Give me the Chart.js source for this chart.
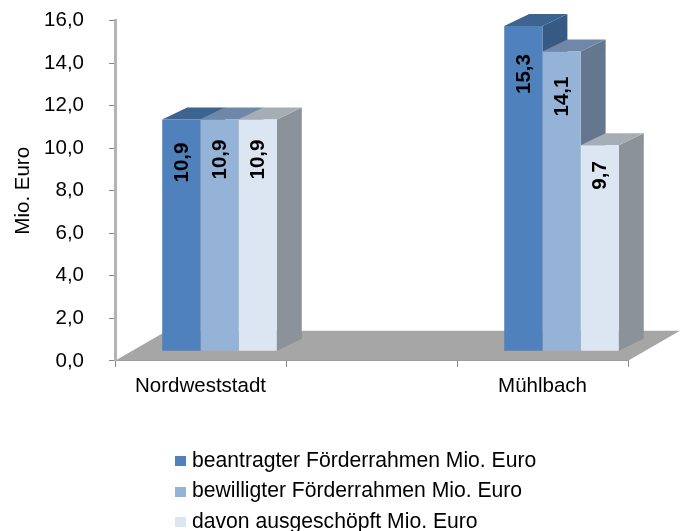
<!DOCTYPE html>
<html>
<head>
<meta charset="utf-8">
<style>
  html, body { margin: 0; padding: 0; background: #fff; }
  #wrap { position: relative; width: 680px; height: 531px; }
  /* the reference is a slightly soft raster */
  canvas { filter: blur(0.35px); }
</style>
<script src="https://cdn.jsdelivr.net/npm/chart.js@4"></script>
</head>
<body>
<div id="wrap"><canvas id="chart"></canvas></div>
<script>
const categories = ['Nordweststadt', '', 'Mühlbach'];
const seriesNames = ['beantragter Förderrahmen Mio. Euro', 'bewilligter Förderrahmen Mio. Euro', 'davon ausgeschöpft Mio. Euro'];
const beantragt = [10.9, null, 15.3];
const bewilligt = [10.9, null, 14.1];
const ausgeschoepft = [10.9, null, 9.7];
const yTickLabels = ['0,0', '2,0', '4,0', '6,0', '8,0', '10,0', '12,0', '14,0', '16,0'];

const frontColors = ['#4F81BD', '#95B3D7', '#DCE6F2'];
const sideColors = ['#375A85', '#64778F', '#8B9299'];
const topColors = ['#3D6390', '#6F87A8', '#A6AEB5'];

// Pseudo 3D: bars sit a bit inside the floor, so everything is shifted
const shift = { x: 19, y: -9.5 };
const depth = { x: 25, y: 12 };
const floorDepth = { x: 52, y: 30 };
// distance of the end of each value label from the bar top, per dataset/category
const labelGap = [[23, 0, 28], [20, 0, 25], [20, 0, 16]];

const fontFamily = '"Liberation Sans", Arial, sans-serif';
const fontSize = 20.5;

function fmt(v) { return v.toFixed(1).replace('.', ','); }

function poly(ctx, pts, color) {
    ctx.fillStyle = color;
    ctx.beginPath();
    pts.forEach((p, i) => i ? ctx.lineTo(p[0], p[1]) : ctx.moveTo(p[0], p[1]));
    ctx.closePath();
    ctx.fill();
}

// Small legend square, the native box would sit too far from the text
function legendSwatch(color) {
    const c = document.createElement('canvas');
    c.width = 11; c.height = 10;
    const g = c.getContext('2d');
    g.fillStyle = color;
    g.fillRect(0, 0, 11, 10);
    return c;
}

const fake3d = {
    id: 'fake3d',
    beforeDatasetsDraw(chart) {
        const { ctx, chartArea, scales } = chart;
        const y0 = scales.y.getPixelForValue(0);
        poly(ctx, [
            [chartArea.left, y0], [chartArea.right, y0],
            [chartArea.right + floorDepth.x, y0 - floorDepth.y], [chartArea.left + floorDepth.x, y0 - floorDepth.y]
        ], '#A6A6A6');

        ctx.save();
        ctx.translate(shift.x, shift.y);
        chart.data.datasets.forEach((ds, di) => {
            chart.getDatasetMeta(di).data.forEach((bar, i) => {
                if (ds.data[i] === null) return;
                const r = bar.x + bar.width / 2, l = bar.x - bar.width / 2;
                poly(ctx, [[r, bar.y], [r + depth.x, bar.y - depth.y], [r + depth.x, bar.base - depth.y], [r, bar.base]], sideColors[di]);
                poly(ctx, [[l, bar.y], [l + depth.x, bar.y - depth.y], [r + depth.x, bar.y - depth.y], [r, bar.y]], topColors[di]);
            });
        });
    },
    afterDatasetsDraw(chart) {
        const { ctx } = chart;
        ctx.fillStyle = '#000';
        ctx.font = 'bold ' + fontSize + 'px ' + fontFamily;
        ctx.textAlign = 'right';
        ctx.textBaseline = 'middle';
        chart.data.datasets.forEach((ds, di) => {
            chart.getDatasetMeta(di).data.forEach((bar, i) => {
                if (ds.data[i] === null) return;
                ctx.save();
                ctx.translate(bar.x + 1, bar.y + labelGap[di][i]);
                ctx.rotate(-Math.PI / 2);
                ctx.fillText(fmt(ds.data[i]), 0, 0);
                ctx.restore();
            });
        });
        ctx.restore();
    },
    afterLayout(chart) {
        // stacked legend rows, left aligned under the plot
        chart.legend.left = 171;
        chart.legend.top = 441;
    }
};

new Chart(document.getElementById('chart'), {
    type: 'bar',
    data: {
        labels: categories,
        datasets: [
            { label: seriesNames[0], data: beantragt, backgroundColor: frontColors[0] },
            { label: seriesNames[1], data: bewilligt, backgroundColor: frontColors[1] },
            { label: seriesNames[2], data: ausgeschoepft, backgroundColor: frontColors[2] }
        ]
    },
    plugins: [fake3d],
    options: {
        responsive: true, maintainAspectRatio: false,
        animation: false,
        clip: false,
        datasets: { bar: { categoryPercentage: 0.67, barPercentage: 1 } },
        layout: { padding: { top: 20.7, right: 52, left: 0, bottom: 0 } },
        plugins: {
            tooltip: { enabled: false },
            legend: {
                position: 'bottom', align: 'start', fullSize: false,
                labels: {
                    color: '#000', padding: 9.4, usePointStyle: true, pointStyleWidth: 1,
                    font: { family: fontFamily, size: 21.15 },
                    generateLabels(chart) {
                        const items = Chart.defaults.plugins.legend.labels.generateLabels(chart);
                        items.forEach((item, i) => { item.pointStyle = legendSwatch(frontColors[i]); });
                        return items;
                    }
                }
            }
        },
        scales: {
            x: {
                grid: { drawOnChartArea: false, color: '#868686', tickLength: 6 },
                border: { color: '#868686' },
                ticks: { color: '#000', padding: 7, maxRotation: 0, autoSkip: false, font: { family: fontFamily, size: fontSize } },
                afterFit(scale) { scale.height = 68.5; }
            },
            y: {
                min: 0, max: 16,
                grid: { drawOnChartArea: false, color: '#868686', tickLength: 6 },
                border: { color: '#B4B4B4', width: 3 },
                ticks: {
                    stepSize: 2, color: '#000', padding: 25,
                    font: { family: fontFamily, size: fontSize },
                    callback(value, i) { return yTickLabels[i]; }
                },
                title: { display: true, text: 'Mio. Euro', color: '#000', font: { family: fontFamily, size: fontSize }, padding: 11 },
                afterFit(scale) { scale.width = 115; scale.paddingTop = 0; scale.paddingBottom = 0; }
            }
        }
    }
});
</script>
</body>
</html>
